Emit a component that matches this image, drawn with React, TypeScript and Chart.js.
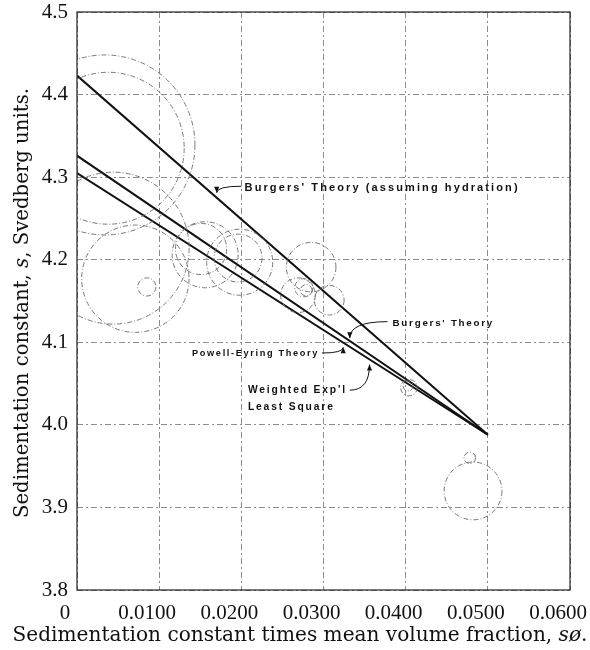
import React, { useEffect, useRef } from 'react';
import { Chart, registerables } from 'chart.js';

Chart.register(...registerables);

// ---- axis ticks ----
const xTickValues = [0, 0.01, 0.02, 0.03, 0.04, 0.05, 0.06];
const xTickLabels = ['0', '0.0100', '0.0200', '0.0300', '0.0400', '0.0500', '0.0600'];
const yTickValues = [3.8, 3.9, 4.0, 4.1, 4.2, 4.3, 4.4, 4.5];
const yTickLabels = ['3.8', '3.9', '4.0', '4.1', '4.2', '4.3', '4.4', '4.5'];

// ---- measured points (centre) and their uncertainty (radius, Svedberg units) ----
const circleX = [0.0034, 0.0038, 0.0044, 0.0071, 0.0085, 0.0151, 0.0156, 0.0196, 0.0198, 0.0285, 0.0269, 0.0276, 0.0279, 0.0307, 0.0404, 0.0403, 0.0482, 0.0478];
const circleY = [4.339, 4.335, 4.214, 4.177, 4.167, 4.213, 4.206, 4.202, 4.197, 4.191, 4.157, 4.166, 4.163, 4.151, 4.045, 4.047, 3.920, 3.960];
const circleErr = [0.109, 0.092, 0.092, 0.065, 0.011, 0.031, 0.040, 0.029, 0.040, 0.030, 0.021, 0.011, 0.007, 0.018, 0.010, 0.006, 0.035, 0.007];

// ---- theory lines ----
const lineX = [0, 0.05];
const hydrationY = [4.423, 3.988];
const burgersY = [4.326, 3.988];
const powellY = [4.305, 3.988];

// ---- annotations ----
const noteTexts = [
  ["Burgers' Theory (assuming hydration)"],
  ["Burgers' Theory"],
  ['Powell-Eyring Theory'],
  ["Weighted Exp'l", 'Least Square'],
];
const noteX = [0.0204, 0.0384, 0.014, 0.0208];
const noteY = [4.287, 4.1235, 4.087, 4.042];
const arrowFromX = [0.02, 0.0378, 0.0298, 0.0332];
const arrowFromY = [4.289, 4.125, 4.087, 4.042];
const arrowToX = [0.017, 0.0332, 0.0324, 0.0356];
const arrowToY = [4.281, 4.105, 4.094, 4.073];

// style: per-note font size (px) and letter spacing (px)
const NOTE_FONT = [11, 9.8, 9.2, 10.3];
const NOTE_SPACING = [2.1, 1.75, 1.65, 1.85];

const xTitleParts = [
  { t: 'Sedimentation constant times mean volume fraction, ', i: false },
  { t: 'sø', i: true },
  { t: '.', i: false },
];
const yTitleParts = [
  { t: 'Sedimentation constant, ', i: false },
  { t: 's', i: true },
  { t: ', Svedberg units.', i: false },
];

const SERIF = '"Liberation Serif", "Times New Roman", serif';
const TITLE_SERIF = '"DejaVu Serif", "Liberation Serif", serif';
const SANS = '"Liberation Sans", Arial, sans-serif';

function drawRich(ctx: CanvasRenderingContext2D, parts: { t: string; i: boolean }[], size: number) {
  const fonts = parts.map((p) => `${p.i ? 'italic ' : ''}${size}px ${TITLE_SERIF}`);
  let total = 0;
  const widths = parts.map((p, k) => {
    ctx.font = fonts[k];
    const w = ctx.measureText(p.t).width;
    total += w;
    return w;
  });
  let x = -total / 2;
  parts.forEach((p, k) => {
    ctx.font = fonts[k];
    ctx.fillText(p.t, x, 0);
    x += widths[k];
  });
}

const circleDashPlugin = {
  id: 'circleDash',
  beforeDatasetDraw(chart: any, args: any) {
    if (chart.data.datasets[args.index].isCircles) {
      chart.ctx.save();
      chart.ctx.setLineDash([5, 2, 1, 2]);
    }
  },
  afterDatasetDraw(chart: any, args: any) {
    if (chart.data.datasets[args.index].isCircles) {
      chart.ctx.restore();
    }
  },
};

const framePlugin = {
  id: 'frame',
  afterDatasetsDraw(chart: any) {
    const { ctx, chartArea } = chart;
    ctx.save();
    ctx.strokeStyle = '#222';
    ctx.lineWidth = 1.2;
    ctx.strokeRect(chartArea.left, chartArea.top, chartArea.right - chartArea.left, chartArea.bottom - chartArea.top);
    ctx.restore();
  },
};

const notePlugin = {
  id: 'notes',
  afterDatasetsDraw(chart: any) {
    const { ctx, scales } = chart;
    const xs = scales.x;
    const ys = scales.y;
    ctx.save();
    ctx.fillStyle = '#111';
    ctx.strokeStyle = '#111';
    ctx.textBaseline = 'middle';
    ctx.textAlign = 'left';
    noteTexts.forEach((lines, k) => {
      ctx.font = `bold ${NOTE_FONT[k]}px ${SANS}`;
      (ctx as any).letterSpacing = `${NOTE_SPACING[k]}px`;
      const px = xs.getPixelForValue(noteX[k]);
      const py = ys.getPixelForValue(noteY[k]);
      lines.forEach((ln, j) => ctx.fillText(ln, px, py + j * 17));
      const sx = xs.getPixelForValue(arrowFromX[k]);
      const sy = ys.getPixelForValue(arrowFromY[k]);
      const ex = xs.getPixelForValue(arrowToX[k]);
      const ey = ys.getPixelForValue(arrowToY[k]);
      const cx = ex;
      const cy = sy;
      ctx.lineWidth = 1;
      ctx.beginPath();
      ctx.moveTo(sx, sy);
      ctx.quadraticCurveTo(cx, cy, ex, ey);
      ctx.stroke();
      const ang = Math.atan2(ey - cy, ex - cx);
      const L = 6;
      const W = 2.6;
      ctx.beginPath();
      ctx.moveTo(ex, ey);
      ctx.lineTo(ex - L * Math.cos(ang) + W * Math.sin(ang), ey - L * Math.sin(ang) - W * Math.cos(ang));
      ctx.lineTo(ex - L * Math.cos(ang) - W * Math.sin(ang), ey - L * Math.sin(ang) + W * Math.cos(ang));
      ctx.closePath();
      ctx.fill();
    });
    ctx.restore();
  },
};

const titlePlugin = {
  id: 'titles',
  afterDraw(chart: any) {
    const { ctx, chartArea } = chart;
    ctx.save();
    ctx.fillStyle = '#111';
    ctx.textBaseline = 'alphabetic';
    ctx.textAlign = 'left';
    ctx.save();
    ctx.translate(chart.width / 2 + 5, 641);
    drawRich(ctx, xTitleParts, 20.1);
    ctx.restore();
    ctx.save();
    ctx.translate(28, (chartArea.top + chartArea.bottom) / 2 + 2);
    ctx.rotate(-Math.PI / 2);
    drawRich(ctx, yTitleParts, 19.7);
    ctx.restore();
    ctx.restore();
  },
};

export default function App() {
  const ref = useRef<HTMLCanvasElement | null>(null);

  useEffect(() => {
    if (!ref.current) return;
    const radiusFor = (c: any) => {
      const i = c.dataIndex;
      if (i === undefined || !c.chart.scales || !c.chart.scales.y) return 3;
      const y = c.chart.scales.y;
      return Math.abs(y.getPixelForValue(circleY[i] + circleErr[i]) - y.getPixelForValue(circleY[i]));
    };
    const lineDs = (label: string, ys: number[]) => ({
      type: 'line' as const,
      label,
      data: lineX.map((x, i) => ({ x, y: ys[i] })),
      borderColor: '#111',
      borderWidth: 2,
      pointRadius: 0,
      fill: false,
      tension: 0,
    });
    const tickFont = { family: SERIF, size: 21 };
    const chart = new Chart(ref.current, {
      type: 'scatter',
      data: {
        datasets: [
          {
            label: 'Measured',
            isCircles: true,
            data: circleX.map((x, i) => ({ x, y: circleY[i] })),
            pointRadius: radiusFor,
            pointHoverRadius: radiusFor,
            pointBackgroundColor: 'rgba(0,0,0,0)',
            pointBorderColor: '#6a6a6a',
            pointBorderWidth: 0.9,
          } as any,
          lineDs("Burgers' Theory (assuming hydration)", hydrationY),
          lineDs("Burgers' Theory", burgersY),
          lineDs('Powell-Eyring Theory', powellY),
        ],
      },
      options: {
        animation: false,
        responsive: false,
        events: [],
        layout: { padding: { top: 12, right: 20, left: 0, bottom: 0 } },
        plugins: { legend: { display: false }, tooltip: { enabled: false }, title: { display: false } },
        scales: {
          x: {
            type: 'linear',
            min: 0,
            max: 0.06,
            afterBuildTicks: (s: any) => {
              s.ticks = xTickValues.map((v) => ({ value: v }));
            },
            afterFit: (s: any) => {
              s.height = 60;
              s.paddingLeft = 0;
              s.paddingRight = 0;
            },
            ticks: {
              callback: (_v: any, i: number) => xTickLabels[i],
              font: tickFont,
              color: '#111',
              padding: 11,
              labelOffset: -12,
              maxRotation: 0,
              autoSkip: false,
            },
            grid: { color: '#8c8c8c', lineWidth: 1, drawTicks: false },
            border: { display: false, dash: [6, 3, 2, 3] },
          },
          y: {
            type: 'linear',
            min: 3.8,
            max: 4.5,
            afterBuildTicks: (s: any) => {
              s.ticks = yTickValues.map((v) => ({ value: v }));
            },
            afterFit: (s: any) => {
              s.width = 77;
              s.paddingTop = 0;
              s.paddingBottom = 0;
            },
            ticks: {
              callback: (_v: any, i: number) => yTickLabels[i],
              font: tickFont,
              color: '#111',
              padding: 9,
              autoSkip: false,
            },
            grid: { color: '#8c8c8c', lineWidth: 1, drawTicks: false },
            border: { display: false, dash: [6, 3, 2, 3] },
          },
        },
      } as any,
      plugins: [circleDashPlugin, framePlugin, notePlugin, titlePlugin],
    });
    return () => chart.destroy();
  }, []);

  return (
    <div style={{ position: 'absolute', left: 0, top: 0, width: 590, height: 650, background: '#fff' }}>
      <canvas ref={ref} width={590} height={650} style={{ display: 'block', width: 590, height: 650 }} />
    </div>
  );
}
